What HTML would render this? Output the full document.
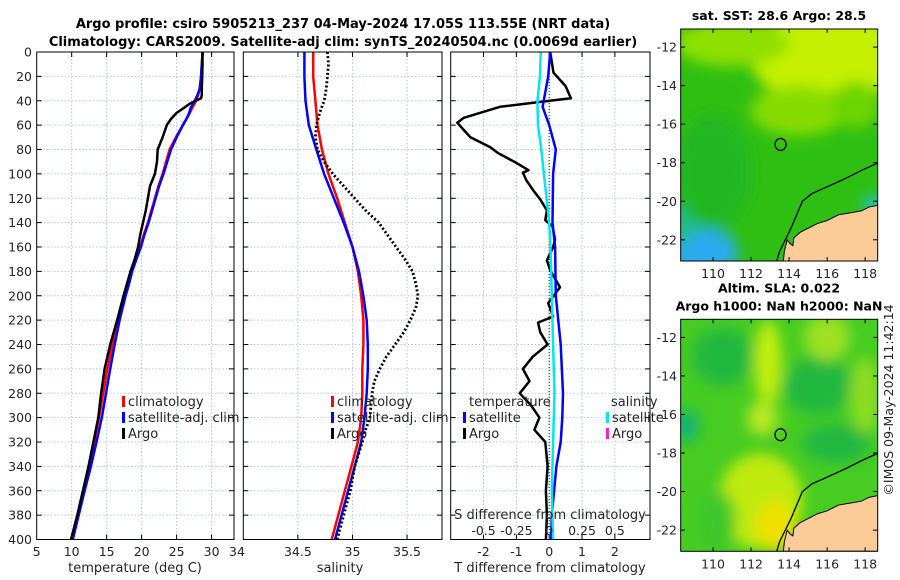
<!DOCTYPE html>
<html><head><meta charset="utf-8"><style>
html,body{margin:0;padding:0;background:#fff;}
svg{display:block;font-family:"DejaVu Sans","Liberation Sans",sans-serif;}
</style></head><body>
<svg id="fig" width="900" height="580" viewBox="0 0 900 580" xmlns="http://www.w3.org/2000/svg">
<defs>
<filter id="blur6" x="-50%" y="-50%" width="200%" height="200%"><feGaussianBlur stdDeviation="7"/></filter>
<clipPath id="clipM1"><rect x="680.7" y="29" width="197" height="232"/></clipPath>
<clipPath id="clipM2"><rect x="680.7" y="319.3" width="197" height="232"/></clipPath>
</defs>
<text x="343" y="28" text-anchor="middle" font-size="13" font-weight="bold" fill="#000">Argo profile: csiro 5905213_237 04-May-2024 17.05S 113.55E (NRT data)</text>
<text x="343" y="46" text-anchor="middle" font-size="13" font-weight="bold" fill="#000">Climatology: CARS2009. Satellite-adj clim: synTS_20240504.nc (0.0069d earlier)</text>
<g id="plots"></g>
<text transform="translate(893,400) rotate(-90)" text-anchor="middle" font-size="12.5" fill="#262626">©IMOS 09-May-2024 11:42:14</text>
</svg>
<script>
// ---------- data ----------
const depthT = [0,10,20,30,35,38,42,46,50,55,60,70,80,90,100,110,120,130,140,150,160,170,180,190,200,220,240,260,280,300,320,340,360,380,400];
const argoTemp = [28.7,28.7,28.65,28.6,28.6,28.5,27.0,26.0,25.0,24.2,23.6,23.0,22.3,22.2,21.9,21.2,20.9,20.6,20.2,19.8,19.5,19.0,18.4,17.9,17.4,16.5,15.5,14.7,14.2,13.8,13.1,12.4,11.6,10.8,9.9];
const climTemp = [28.7,28.6,28.5,28.3,28.1,27.9,27.6,27.2,26.9,26.4,25.9,24.9,24.0,23.5,23.0,22.4,21.9,21.4,20.9,20.3,19.8,19.1,18.5,18.0,17.5,16.6,15.8,15.1,14.5,13.9,13.2,12.5,11.7,10.9,10.1];
const satTemp = [28.73,28.6,28.5,28.3,28.0,27.75,27.4,27.0,26.8,26.4,25.9,25.0,24.2,23.65,23.12,22.5,22.0,21.5,21.0,20.4,19.9,19.25,18.65,18.2,17.7,16.85,16.15,15.5,14.9,14.3,13.55,12.75,11.85,11.0,10.16];

const depthS = [0,20,40,60,80,100,120,140,160,180,200,220,240,260,280,300,320,340,360,380,400];
const climSal = [34.64,34.64,34.66,34.68,34.72,34.78,34.86,34.93,35.0,35.05,35.08,35.1,35.1,35.09,35.09,35.08,35.05,34.99,34.93,34.87,34.81];
const satSal = [34.56,34.56,34.57,34.6,34.67,34.74,34.83,34.92,35.0,35.06,35.1,35.13,35.14,35.14,35.13,35.11,35.08,35.02,34.96,34.9,34.84];
const depthArgoS = [0,10,20,30,40,50,60,70,80,90,100,110,120,130,140,150,160,170,180,190,200,210,220,230,240,250,260,270,280,290,300,310,320,340,360,380,400];
const argoSal = [34.77,34.78,34.77,34.76,34.74,34.7,34.67,34.66,34.68,34.74,34.82,34.92,35.02,35.12,35.24,35.32,35.4,35.48,35.55,35.58,35.6,35.58,35.53,35.47,35.39,35.31,35.25,35.2,35.18,35.17,35.16,35.12,35.09,35.02,34.98,34.92,34.86];

const depthDT = [0,17,28,38,41,45,54,58,64,70,78,83,91,97,99,105,113,121,130,138,143,154,160,171,179,193,206,217,222,230,240,250,260,270,280,290,300,310,320,340,360,380,400];
const argoTdiff = [0.03,0.13,0.5,0.66,-0.3,-1.5,-2.6,-2.8,-2.6,-2.4,-1.8,-1.55,-1.0,-0.63,-0.8,-0.7,-0.5,-0.27,-0.07,-0.12,0.1,0.18,0.12,-0.07,0.03,0.33,-0.03,0.12,-0.34,-0.27,-0.05,-0.5,-0.8,-0.6,-0.9,-0.55,-0.3,-0.45,-0.12,-0.05,-0.1,-0.07,-0.1];
const depthSat = [0,20,45,60,80,100,140,160,200,240,280,300,320,340,360,380,400];
const satTdiff = [0.03,-0.03,-0.2,0.0,0.2,0.12,0.1,0.18,0.2,0.35,0.42,0.4,0.35,0.22,0.15,0.08,0.06];
const depthSatS = [0,20,40,60,80,100,120,140,160,200,240,280,320,360,400];
const satSdiff = [-0.065,-0.07,-0.09,-0.085,-0.06,-0.04,-0.02,0.0,0.01,0.02,0.03,0.04,0.03,0.02,0.03];

const depthTicks = [0,20,40,60,80,100,120,140,160,180,200,220,240,260,280,300,320,340,360,380,400];
const tempTicks = [5,10,15,20,25,30];
const salTicks = [34,34.5,35,35.5];
const salTickLabels = ["34","34.5","35","35.5"];
const tdiffTicks = [-2,-1,0,1,2];
const sdiffTickLabels = ["-0.5","-0.25","0","0.25","0.5"];
const lonTicks = [110,112,114,116,118];
const latTicks = [-12,-14,-16,-18,-20,-22];

// ---------- helpers ----------
const NS = "http://www.w3.org/2000/svg";
const root = document.getElementById('plots');
function el(tag, attrs, parent){ const e=document.createElementNS(NS,tag); for(const k in attrs) e.setAttribute(k,attrs[k]); (parent||root).appendChild(e); return e; }
const Y0=52, Y1=539.5;
const yD = d => Y0 + d/400*(Y1-Y0);
function lin(d0,d1,p0,p1){ return v => p0 + (v-d0)/(d1-d0)*(p1-p0); }

function panel(name, x0, x1, xScale, xt){
  const g = el('g',{});
  
  
  xt.forEach(v=>{ const x=xScale(v); if(x>x0+1&&x<x1-1){
    const l = el('line',{x1:x,x2:x,y1:Y0,y2:Y1,stroke:'#b9c3ea','stroke-width':1,'stroke-dasharray':'1.5,2'},g);
     
    el('line',{x1:x,x2:x,y1:Y1,y2:Y1-5,stroke:'#000'},g); el('line',{x1:x,x2:x,y1:Y0,y2:Y0+5,stroke:'#000'},g);
  }});
  depthTicks.forEach(d=>{ const y=yD(d); if(d>0&&d<400){
    const l = el('line',{x1:x0,x2:x1,y1:y,y2:y,stroke:'#b9c3ea','stroke-width':1,'stroke-dasharray':'1.5,2'},g);
     
  }
    el('line',{x1:x0,x2:x0+5,y1:y,y2:y,stroke:'#000'},g); el('line',{x1:x1,x2:x1-5,y1:y,y2:y,stroke:'#000'},g);
  });
  return g;
}
function frame(g,x0,x1){ const r=el('rect',{x:x0,y:Y0,width:x1-x0,height:Y1-Y0,fill:'none',stroke:'#000','stroke-width':1},g);   }
function line(g, xs, ds, xScale, color, w, name, dash){
  const pts = xs.map((v,i)=>xScale(v).toFixed(1)+','+yD(ds[i]).toFixed(1)).join(' ');
  const p = el('polyline',{points:pts,fill:'none',stroke:color,'stroke-width':w,'stroke-linejoin':'round'},g);
  if(dash) p.setAttribute('stroke-dasharray',dash);
  
  
}
function txt(g,x,y,s,opts){ const t=el('text',Object.assign({x:x,y:y,'font-size':12.5,fill:'#262626'},opts||{}),g); t.textContent=s; return t; }
function legend(g,x,y,color,label,name){
  el('rect',{x:x,y:y-9,width:3,height:11,fill:color},g);
  const t = txt(g,x+6,y+1,label,{'font-size':13});
   
}

// ---------- panel 1: temperature ----------
const xT = lin(5,33.2,36.7,234);
const g1 = panel('temperature-panel',36.7,234,xT,tempTicks);
line(g1, climTemp, depthT, xT, '#ff0000', 2.5, 'climatology-temp-line');
line(g1, satTemp, depthT, xT, '#0000ff', 2.5, 'satellite-adj-temp-line');
line(g1, argoTemp, depthT, xT, '#000000', 2.5, 'argo-temp-line');
frame(g1,36.7,234);
depthTicks.forEach(d=>{ const t=txt(g1,32,yD(d)+4.5,String(d),{'text-anchor':'end'});   });
tempTicks.forEach(v=>{ const t=txt(g1,xT(v),556,String(v),{'text-anchor':'middle'});   });
txt(g1,xT(33.2)+3,556,'34',{'text-anchor':'middle'});
const xl1=txt(g1,135,572,'temperature (deg C)',{'text-anchor':'middle','font-size':13});  
legend(g1,122,405,'#ff0000','climatology','legend-climatology');
legend(g1,122,421,'#0000ff','satellite-adj. clim','legend-satellite-adj');
legend(g1,122,437,'#000000','Argo','legend-argo');

// ---------- panel 2: salinity ----------
const xS = lin(34,35.82,243.3,442);
const g2 = panel('salinity-panel',243.3,442,xS,salTicks);
line(g2, climSal, depthS, xS, '#ff0000', 2.5, 'climatology-sal-line');
line(g2, satSal, depthS, xS, '#0000ff', 2.5, 'satellite-adj-sal-line');
line(g2, argoSal, depthArgoS, xS, '#000000', 2.8, 'argo-sal-line', '2,2.2');
frame(g2,243.3,442);
salTicks.forEach((v,i)=>{ if(i>0){ const t=txt(g2,xS(v),556,salTickLabels[i],{'text-anchor':'middle'});   }});
const xl2=txt(g2,340,572,'salinity',{'text-anchor':'middle','font-size':13});  
legend(g2,331,405,'#ff0000','climatology','legend-climatology-sal');
legend(g2,331,421,'#0000ff','satellite-adj. clim','legend-satellite-adj-sal');
legend(g2,331,437,'#000000','Argo','legend-argo-sal');

// ---------- panel 3: differences ----------
const xD = lin(-3,3.07,450.7,650);
const xSD = v => xD(v*4);
const g3 = panel('difference-panel',450.7,650,xD,tdiffTicks);
const z = el('line',{x1:xD(0),x2:xD(0),y1:Y0,y2:Y1,stroke:'#335533','stroke-width':1.2,'stroke-dasharray':'1,2'},g3);
 
line(g3, argoTdiff, depthDT, xD, '#000000', 2.5, 'argo-tdiff-line');
line(g3, satTdiff, depthSat, xD, '#0000ff', 2.5, 'satellite-tdiff-line');
line(g3, satSdiff, depthSatS, xSD, '#00e5ee', 2.5, 'satellite-sdiff-line');
frame(g3,450.7,650);
tdiffTicks.forEach(v=>{ const t=txt(g3,xD(v),556,String(v),{'text-anchor':'middle'});   });
tdiffTicks.forEach((v,i)=>{ const t=txt(g3,xD(v),535,sdiffTickLabels[i],{'text-anchor':'middle'});   });
const xl3=txt(g3,550,572,'T difference from climatology',{'text-anchor':'middle','font-size':13});  
const xl4=txt(g3,550,519,'S difference from climatology',{'text-anchor':'middle','font-size':13});  
txt(g3,469,406,'temperature',{'font-size':13});
txt(g3,611,406,'salinity',{'font-size':13});
legend(g3,463,421,'#0000ff','satellite','legend-temp-satellite');
legend(g3,463,437,'#000000','Argo','legend-temp-argo');
legend(g3,606,421,'#00e5ee','satellite','legend-sal-satellite');
legend(g3,606,437,'#ff22cc','Argo','legend-sal-argo');

// ---------- maps ----------
const coast = [[118.7,-18.0],[117.8,-18.4],[117,-18.8],[116,-19.25],[115.2,-19.6],[114.7,-20.0],[114.4,-20.7],[114.1,-21.4],[113.8,-22.0],[113.5,-22.6],[113.35,-23.1]];
const land = [[113.7,-23.1],[113.75,-22.6],[113.9,-22.0],[114.05,-22.2],[114.2,-22.3],[114.25,-21.9],[114.6,-21.6],[115.0,-21.4],[115.5,-21.15],[116.0,-21.0],[116.6,-20.7],[117.2,-20.6],[117.8,-20.5],[118.2,-20.3],[118.7,-20.2],[118.7,-23.1]];
function mapPanel(name, top, title1, title2, blobs, base){
  const lonS = lin(108.3,118.66,680.7,877.7);
  const latS = lin(-11.06,-23.1,top,top+232);
  const g = el('g',{});
  
  
  const inner = el('g',{'clip-path':'url(#'+(top<100?'clipM1':'clipM2')+')'},g);
  el('rect',{x:680.7,y:top,width:197,height:232,fill:base},inner);
  const bg = el('g',{filter:'url(#blur6)'},inner);
  blobs.forEach(b=>{ el('ellipse',{cx:lonS(b[0]),cy:latS(b[1]),rx:b[2]*19.2,ry:b[3]*19.2,fill:b[4]},bg); });
  const lp = el('polygon',{points:land.map(p=>lonS(p[0])+','+latS(p[1])).join(' '),fill:'#fbcb98',stroke:'#000','stroke-width':1},inner);
   
  const cp = el('polyline',{points:coast.map(p=>lonS(p[0])+','+latS(p[1])).join(' '),fill:'none',stroke:'#000','stroke-width':1.3},inner);
   
  const c = el('ellipse',{cx:lonS(113.55),cy:latS(-17.05),rx:5.5,ry:6,fill:'none',stroke:'#000','stroke-width':1.3},g);
   
  el('rect',{x:680.7,y:top,width:197,height:232,fill:'none',stroke:'#000'},g);
  latTicks.forEach(v=>{ const y=latS(v); el('line',{x1:680.7,x2:685,y1:y,y2:y,stroke:'#000'},g); el('line',{x1:877.7,x2:873,y1:y,y2:y,stroke:'#000'},g);
    const t=txt(g,677,y+4.5,String(v),{'text-anchor':'end'});   });
  lonTicks.forEach(v=>{ const x=lonS(v); el('line',{x1:x,x2:x,y1:top+232,y2:top+228,stroke:'#000'},g); el('line',{x1:x,x2:x,y1:top,y2:top+4,stroke:'#000'},g);
    const t=txt(g,x,top+249,String(v),{'text-anchor':'middle'});   });
  const t1=txt(g,779,top-(title2?27:9),title1,{'text-anchor':'middle','font-size':12.5,'font-weight':'bold',fill:'#000'});
   
  if(title2){ const t2=txt(g,779,top-9,title2,{'text-anchor':'middle','font-size':12.5,'font-weight':'bold',fill:'#000'});   }
}
mapPanel('sst-map',29,'sat. SST: 28.6 Argo: 28.5',null,[
  [116,-12.5,4,2.5,'#c4f000'],[111,-11.8,3,1.2,'#8ee000'],[114.5,-15.3,2.5,1.3,'#86dc00'],[117.5,-15,1.3,1.2,'#6cd400'],
  [109.5,-22.6,1.8,1.2,'#2aaaf0'],[108.6,-21,0.6,1.2,'#22bb99'],[110,-18.5,2,3,'#22b722'],[118.5,-20.2,0.6,0.5,'#22c0cc']
],'#2fbf12');
mapPanel('sla-map',319.3,'Altim. SLA: 0.022','Argo h1000: NaN h2000: NaN',[
  [112.9,-13.3,0.7,2.2,'#c4ee10'],[112.6,-16.2,0.8,0.9,'#b8e820'],[110.5,-13,1.6,1.5,'#20b840'],[115.5,-14.5,1.8,1.5,'#22b840'],
  [116.5,-17.5,1.8,1.0,'#23b843'],[108.6,-16.6,0.6,0.8,'#10b080'],[112.5,-20.5,2.2,2.5,'#c0ea10'],[113.3,-21.8,1,1.3,'#f0e000'],
  [116,-12,1.2,1.2,'#9ee020'],[118,-15,0.8,2,'#8cdc20'],[110.2,-21.5,1,1.6,'#3cc82a']
],'#46cc22');
</script>
</body></html>
